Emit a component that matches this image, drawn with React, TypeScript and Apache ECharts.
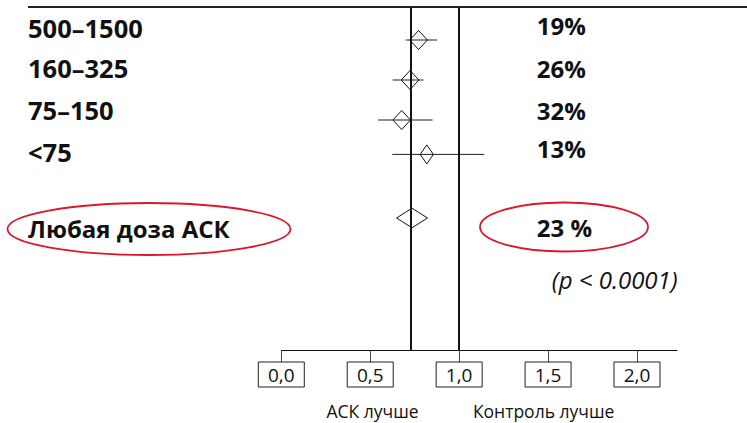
import React, { useEffect, useRef } from 'react';
import * as echarts from 'echarts';

// ---- data ----
const categories = ['500–1500', '160–325', '75–150', '<75'];
const estimates = [0.772, 0.724, 0.677, 0.818];
const ciLow = [0.7, 0.626, 0.544, 0.624];
const ciHigh = [0.876, 0.8, 0.851, 1.141];
const weights = [1, 1, 1, 0.75];
const reductions = ['19%', '26%', '32%', '13%'];
const overallLabel = 'Любая доза АСК';
const overallEstimate = 0.735;
const overallLow = 0.648;
const overallHigh = 0.822;
const overallReduction = '23 %';
const pValueText = '(p < 0.0001)';
const xTicks = [0, 0.5, 1, 1.5, 2];
const nullValue = 1;
const leftNote = 'АСК лучше';
const rightNote = 'Контроль лучше';

// row coordinates (y axis units, one row per study group)
const rowPos = [1, 2, 3, 3.86];
const overallRow = 5.45;
const labelRow = [0.71, 1.71, 2.75, 3.79];
const overallLabelRow = 5.7;
const pctRow = [0.625, 1.7, 2.75, 3.7];
const overallPctRow = 5.69;
const pRow = 6.975;

const FONT = '"Open Sans", "Noto Sans", sans-serif';

export default function App() {
  const ref = useRef<HTMLDivElement>(null);
  useEffect(() => {
    document.body.style.margin = '0';
    const chart = echarts.init(ref.current!, null, { renderer: 'svg' });
    const seriesData = categories.map((_, i) => [estimates[i], ciLow[i], ciHigh[i], rowPos[i], 0, weights[i]]);
    seriesData.push([overallEstimate, overallLow, overallHigh, overallRow, 1, 1]);

    const option: any = {
      animation: false,
      grid: { left: 281.3, right: 70, top: 7, bottom: 73 },
      xAxis: {
        type: 'value',
        min: 0,
        max: 2.225,
        position: 'bottom',
        splitLine: { show: false },
        axisLine: { show: true, lineStyle: { color: '#111', width: 1 } },
        axisTick: {
          show: true,
          customValues: xTicks,
          length: 12,
          lineStyle: { color: '#444', width: 1 },
        },
        axisLabel: {
          customValues: xTicks,
          formatter: (v: number) => v.toFixed(1).replace('.', ','),
          margin: 12,
          fontSize: 19,
          fontFamily: FONT,
          color: '#111',
          borderColor: '#222',
          borderWidth: 1,
          padding: [2, 9, 2, 9],
          width: 28,
          lineHeight: 21,
          align: 'center',
        },
      },
      yAxis: { type: 'value', inverse: true, min: 0.175, max: 8.75, show: false },
      series: [
        {
          type: 'custom',
          data: seriesData,
          renderItem: (params: any, api: any) => {
            const est = api.value(0);
            const lo = api.value(1);
            const hi = api.value(2);
            const row = api.value(3);
            const overall = api.value(4);
            const w = api.value(5);
            const c = api.coord([est, row]);
            const l = api.coord([lo, row]);
            const h = api.coord([hi, row]);
            const children: any[] = [];
            if (!overall) {
              children.push({
                type: 'line',
                shape: { x1: l[0], y1: l[1], x2: h[0], y2: h[1] },
                style: { stroke: '#222', lineWidth: 1 },
              });
            }
            const hw = overall ? (h[0] - l[0]) / 2 : 8.8 * w;
            const hh = overall ? 9.8 : 9.5;
            children.push({
              type: 'polygon',
              shape: {
                points: [
                  [c[0] - hw, c[1]],
                  [c[0], c[1] - hh],
                  [c[0] + hw, c[1]],
                  [c[0], c[1] + hh],
                ],
              },
              style: { fill: 'none', stroke: '#111', lineWidth: 1 },
            });
            return { type: 'group', children };
          },
          markLine: {
            silent: true,
            symbol: ['none', 'none'],
            label: { show: false },
            lineStyle: { color: '#111', width: 2, type: 'solid' },
            data: [{ xAxis: overallEstimate }, { xAxis: nullValue }],
          },
        },
      ],
    };
    chart.setOption(option);

    const px = (x: number, y: number) => chart.convertToPixel({ gridIndex: 0 } as any, [x, y]) as number[];
    const txt = (text: string, x: number, y: number, extra: any = {}) => ({
      type: 'text',
      style: {
        text,
        x,
        y,
        fill: '#111',
        fontFamily: FONT,
        fontSize: 24,
        fontWeight: 'bold',
        align: 'left',
        verticalAlign: 'middle',
        ...extra,
      },
    });
    const pctX = px(1.437, 0)[0];
    const graphic: any[] = [
      { type: 'line', shape: { x1: 28, y1: 7, x2: 747, y2: 7 }, style: { stroke: '#222', lineWidth: 2 } },
    ];
    categories.forEach((c, i) => {
      graphic.push(txt(c, 28, px(0, labelRow[i])[1], { fontSize: 25.5 }));
      graphic.push(txt(reductions[i], pctX, px(0, pctRow[i])[1]));
    });
    graphic.push(txt(overallLabel, 28, px(0, overallLabelRow)[1]));
    graphic.push(txt(overallReduction, pctX, px(0, overallPctRow)[1]));
    graphic.push(
      txt(pValueText, px(1.521, 0)[0], px(0, pRow)[1], {
        fontWeight: 'normal',
        fontStyle: 'italic',
        fontSize: 24,
      })
    );
    const bottomY = 411;
    graphic.push(txt(leftNote, px(0.513, 0)[0], bottomY, { fontWeight: 'normal', fontSize: 17.5, align: 'center' }));
    graphic.push(txt(rightNote, px(1.475, 0)[0], bottomY, { fontWeight: 'normal', fontSize: 17.5, align: 'center' }));
    graphic.push({
      type: 'ellipse',
      shape: { cx: 149, cy: 229, rx: 141.5, ry: 26 },
      style: { fill: 'none', stroke: '#d9182d', lineWidth: 1.8 },
    });
    graphic.push({
      type: 'ellipse',
      shape: { cx: 564, cy: 227, rx: 84, ry: 24.5 },
      style: { fill: 'none', stroke: '#d9182d', lineWidth: 1.8 },
    });
    chart.setOption({ graphic });

    return () => chart.dispose();
  }, []);
  return (
    <div
      ref={ref}
      style={{ width: 747, height: 423, position: 'absolute', left: 0, top: 0, background: '#fff' }}
    />
  );
}
